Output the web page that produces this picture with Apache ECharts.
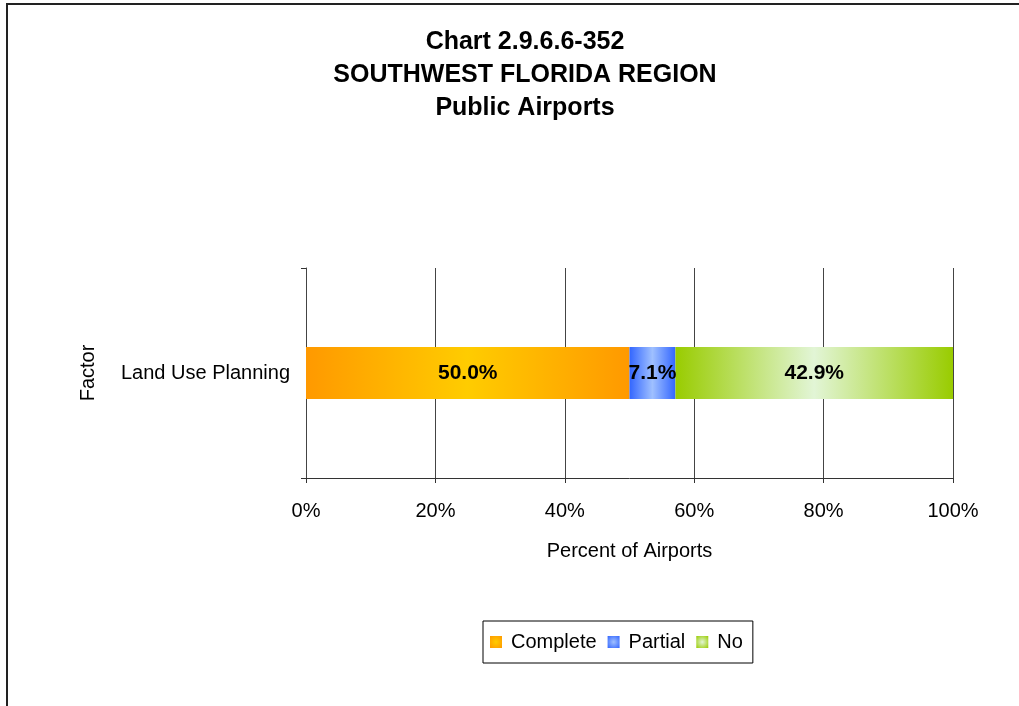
<!DOCTYPE html>
<html>
<head>
<meta charset="utf-8">
<script src="https://cdn.jsdelivr.net/npm/echarts@6/dist/echarts.min.js"></script>
<style>
  html, body { margin: 0; padding: 0; background: #fff; }
</style>
</head>
<body>
<div id="chart" style="width: 1019px; height: 706px"></div>
<script>
// 数据
const titleLines = ["Chart 2.9.6.6-352", "SOUTHWEST FLORIDA REGION", "Public Airports"];
const categories = ["Land Use Planning"];
const seriesNames = ["Complete", "Partial", "No"];
const complete = [50.0];
const partial = [7.1];
const no = [42.9];

const font = "Liberation Sans, Arial, sans-serif";

// 颜色：边缘色 / 中心色
const edgeColors = ["#ff9900", "#3366ff", "#99cc00"];
const midColors = ["#ffcc00", "#9fc0ff", "#e2f5d6"];

// 渐变色：两边深，中间浅
function grad(edge, mid) {
  return new echarts.graphic.LinearGradient(0, 0, 1, 0, [
    { offset: 0, color: edge },
    { offset: 0.5, color: mid },
    { offset: 1, color: edge },
  ]);
}
// 图例小方块用径向渐变
function radial(edge, mid) {
  return new echarts.graphic.RadialGradient(0.5, 0.5, 0.7, [
    { offset: 0, color: mid },
    { offset: 1, color: edge },
  ]);
}

var myChart = echarts.init(document.getElementById("chart"));

function makeSeries(i, data) {
  return {
    name: seriesNames[i],
    type: "bar",
    stack: "total",
    data: data,
    barWidth: 52,
    itemStyle: { color: grad(edgeColors[i], midColors[i]) },
    label: {
      show: true,
      position: "inside",
      formatter: (p) => p.value.toFixed(1) + "%",
      color: "#000",
      fontFamily: font,
      fontWeight: "bold",
      fontSize: 21,
    },
  };
}

var option = {
  animation: false,
  backgroundColor: "#fff",
  textStyle: { fontFamily: font },
  title: {
    text: titleLines.join("\n"),
    left: 520,
    top: 21,
    textAlign: "center",
    textStyle: {
      color: "#000",
      fontFamily: font,
      fontWeight: "bold",
      fontSize: 25,
      lineHeight: 33,
    },
  },
  graphic: [
    {
      type: "rect",
      shape: { x: 7, y: 4, width: 2000, height: 2000 },
      style: { fill: "none", stroke: "#222", lineWidth: 2 },
      silent: true,
    },
  ],
  legend: {
    data: seriesNames.map((n, i) => ({
      name: n,
      itemStyle: { color: radial(edgeColors[i], midColors[i]) },
    })),
    left: 483,
    top: 621,
    padding: [11, 10, 11, 7],
    borderColor: "#000",
    borderWidth: 1,
    itemWidth: 12,
    itemHeight: 12,
    itemGap: 11,
    icon: "rect",
    textStyle: { color: "#000", fontFamily: font, fontSize: 20, padding: [0, 0, 0, 4] },
  },
  grid: {
    left: 306,
    right: 66,
    top: 268,
    bottom: 228,
    containLabel: false,
  },
  xAxis: {
    type: "value",
    min: 0,
    max: 100,
    interval: 20,
    name: "Percent of Airports",
    nameLocation: "middle",
    nameGap: 63,
    nameTextStyle: { color: "#000", fontFamily: font, fontSize: 20 },
    axisLine: { show: true, lineStyle: { color: "#333", width: 1 } },
    axisTick: { show: true, length: 5, lineStyle: { color: "#333" } },
    axisLabel: {
      formatter: "{value}%",
      color: "#000",
      fontFamily: font,
      fontSize: 20,
      margin: 23,
    },
    splitLine: { show: true, lineStyle: { color: "#444", width: 1 } },
  },
  yAxis: {
    type: "category",
    data: categories,
    name: "Factor",
    nameLocation: "middle",
    nameRotate: 90,
    nameGap: 208,
    nameTextStyle: { color: "#000", fontFamily: font, fontSize: 20 },
    axisLine: { show: true, lineStyle: { color: "#444", width: 1 } },
    axisTick: { show: true, length: 5, lineStyle: { color: "#333" } },
    axisLabel: {
      color: "#000",
      fontFamily: font,
      fontSize: 20,
      margin: 16,
    },
  },
  series: [
    makeSeries(0, complete),
    makeSeries(1, partial),
    makeSeries(2, no),
  ],
};

myChart.setOption(option);
</script>
</body>
</html>
